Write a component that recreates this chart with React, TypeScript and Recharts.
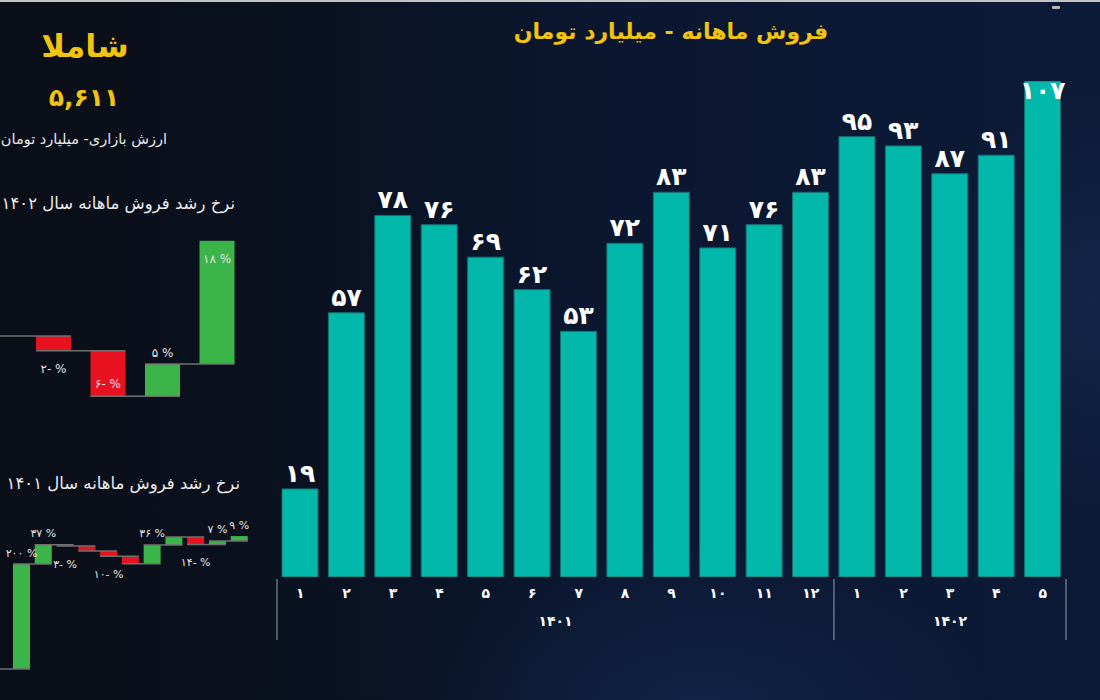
import React from 'react'
import { BarChart, Bar, XAxis, YAxis, LabelList } from 'recharts'

// ─── Data ─────────────────────────────────────────────────────────────────────

const months1401 = [1, 2, 3, 4, 5, 6, 7, 8, 9, 10, 11, 12]
const sales1401 = [19, 57, 78, 76, 69, 62, 53, 72, 83, 71, 76, 83]
const months1402 = [1, 2, 3, 4, 5]
const sales1402 = [95, 93, 87, 91, 107]

// month-on-month growth (%), starting at month 2
const growthMonths1402 = [2, 3, 4, 5]
const growth1402 = [-2.1, -6.5, 4.6, 17.6]
const growthMonths1401 = [2, 3, 4, 5, 6, 7, 8, 9, 10, 11, 12]
const growth1401 = [200, 36.8, -2.6, -9.2, -10.1, -14.5, 35.8, 15.3, -14.5, 7.0, 9.2]
const hiddenLabels1401 = [5, 7, 9]

// ─── Helpers ──────────────────────────────────────────────────────────────────

const FA_DIGITS = '۰۱۲۳۴۵۶۷۸۹'
const fa = (v: number | string) => String(v).replace(/\d/g, (d) => FA_DIGITS[+d])
const pct = (v: number) => `${fa(Math.abs(Math.round(v)))}${v < 0 ? '-' : ''} %`

const FONT = "'DejaVu Sans', sans-serif"
const YELLOW = '#F2C40F'
const TEAL = '#01B8AA'
const GREEN = '#3BB54A'
const RED = '#E8111F'

const groups = [
  { year: '1401', start: 0, n: months1401.length },
  { year: '1402', start: months1401.length, n: months1402.length },
]

const salesData = [
  ...months1401.map((m, i) => ({ key: `1401-${m}`, month: m, value: sales1401[i] })),
  ...months1402.map((m, i) => ({ key: `1402-${m}`, month: m, value: sales1402[i] })),
]
const maxSale = Math.max(...sales1401, ...sales1402)

const MAIN = { top: 81, right: 34, bottom: 63, left: 277 }
const BAND = (1100 - MAIN.left - MAIN.right) / salesData.length

function MonthTick(props: any) {
  const { x, y, payload } = props
  const i = props.index ?? payload.index
  const half = payload.offset || BAND / 2
  const d = salesData[i]
  const g = groups.find((gr) => i >= gr.start && i < gr.start + gr.n)!
  const mid = g.start + Math.floor((g.n - 1) / 2)
  return (
    <g>
      <text x={x} y={y + 21} textAnchor="middle" fill="#fff" fontSize={14} fontWeight={700} fontFamily={FONT}>
        {fa(d.month)}
      </text>
      {i === g.start && (
        <line x1={x - half} x2={x - half} y1={y + 2} y2={y + 63} stroke="#9aa0a8" strokeWidth={1} />
      )}
      {i === salesData.length - 1 && (
        <line x1={x + half} x2={x + half} y1={y + 2} y2={y + 63} stroke="#9aa0a8" strokeWidth={1} />
      )}
      {i === mid && (
        <text
          x={x + (g.n % 2 === 0 ? half : 0)}
          y={y + 49}
          textAnchor="middle"
          fill="#fff"
          fontSize={14}
          fontWeight={700}
          fontFamily={FONT}
        >
          {fa(g.year)}
        </text>
      )}
    </g>
  )
}

function SalesLabel(props: any) {
  const { x, y, width, value } = props
  const inside = y - 7 - 20 < MAIN.top - 20
  return (
    <text
      x={x + width / 2}
      y={inside ? y + 18 : y - 7}
      textAnchor="middle"
      fill="#fff"
      fontSize={25}
      fontWeight={700}
      fontFamily={FONT}
    >
      {fa(value)}
    </text>
  )
}

// ─── Waterfall ────────────────────────────────────────────────────────────────

interface Step {
  month: number
  growth: number
  range: [number, number]
  label: string
}

function buildSteps(months: number[], growth: number[], hidden: number[] = []): Step[] {
  let level = 0
  return months.map((m, i) => {
    const start = level
    const end = level + growth[i]
    level = end
    return {
      month: m,
      growth: growth[i],
      range: [Math.min(start, end), Math.max(start, end)],
      label: hidden.includes(m) ? '' : pct(growth[i]),
    }
  })
}

interface WaterfallProps {
  data: Step[]
  left: number
  top: number
  width: number
  height: number
  margin: { top: number; right: number; bottom: number; left: number }
  domain: [number, number]
  barSize: number
  fontSize: number
}

function Waterfall({ data, left, top, width, height, margin, domain, barSize, fontSize }: WaterfallProps) {
  const pitch = (width - margin.left - margin.right) / data.length
  const plotTop = margin.top
  const plotBottom = height - margin.bottom

  const shape = (p: any) => {
    const { x, y, width: w, height: h, payload, index } = p
    const t = Math.min(y, y + h)
    const hh = Math.abs(h)
    const up = payload.growth >= 0
    const startY = up ? t + hh : t
    const x0 = index === 0 ? 0 : x - pitch
    return (
      <g>
        <rect x={x} y={t} width={w} height={Math.max(hh, 1)} fill={up ? GREEN : RED} />
        <line x1={x0} x2={x + w} y1={startY} y2={startY} stroke="#707070" strokeWidth={1.5} />
      </g>
    )
  }

  const label = (p: any) => {
    const { x, y, width: w, height: h, index } = p
    const d = data[index]
    if (!d || !d.label) return null
    const t = Math.min(y, y + h)
    const b = t + Math.abs(h)
    let ty: number
    if (d.growth >= 0) {
      ty = t - 11
      if (ty - 7 < plotTop) ty = t + 18
    } else {
      ty = b + 18
      if (ty + 6 > plotBottom) ty = b - 12
    }
    return (
      <text
        x={x + w / 2}
        y={ty}
        textAnchor="middle"
        dominantBaseline="central"
        fill="#e4e4e4"
        fontSize={fontSize}
        fontFamily={FONT}
        direction="ltr"
      >
        {d.label}
      </text>
    )
  }

  return (
    <div style={{ position: 'absolute', left, top }}>
      <BarChart width={width} height={height} data={data} margin={margin}>
        <XAxis dataKey="month" hide />
        <YAxis hide domain={domain} allowDataOverflow />
        <Bar dataKey="range" barSize={barSize} shape={shape} isAnimationActive={false}>
          <LabelList dataKey="label" content={label} />
        </Bar>
      </BarChart>
    </div>
  )
}

const steps1402 = buildSteps(growthMonths1402, growth1402)
const steps1401 = buildSteps(growthMonths1401, growth1401, hiddenLabels1401)

// ─── App ──────────────────────────────────────────────────────────────────────

const textBase: React.CSSProperties = {
  position: 'absolute',
  fontFamily: FONT,
  whiteSpace: 'nowrap',
}

export default function App() {
  return (
    <div
      style={{
        position: 'absolute',
        left: 0,
        top: 0,
        width: 1100,
        height: 700,
        overflow: 'hidden',
        background:
          'radial-gradient(ellipse 420px 260px at 700px 720px, rgba(28,58,110,0.35), transparent 70%),' +
          'radial-gradient(ellipse 220px 300px at 1090px 300px, rgba(40,70,120,0.25), transparent 70%),' +
          'linear-gradient(90deg, #0a0e17 0%, #0a111f 25%, #0b1730 55%, #0b1a37 100%)',
      }}
    >
      <div style={{ position: 'absolute', left: 0, top: 0, width: 1100, height: 2, background: '#c4c4c4' }} />
      <div style={{ position: 'absolute', left: 1052, top: 6, width: 8, height: 3, background: '#b8b8b8', borderRadius: 1 }} />

      <div dir="rtl" style={{ ...textBase, left: 421, width: 500, top: 18, lineHeight: '28px', fontSize: 22, fontWeight: 700, color: YELLOW, textAlign: 'center' }}>
        فروش ماهانه - میلیارد تومان
      </div>

      <div dir="rtl" style={{ ...textBase, left: 0, width: 170, top: 28, lineHeight: '36px', fontSize: 32, fontWeight: 700, color: YELLOW, textAlign: 'center' }}>
        شاملا
      </div>
      <div style={{ ...textBase, left: 0, width: 168, top: 82, lineHeight: '32px', fontSize: 25, fontWeight: 700, color: YELLOW, textAlign: 'center' }}>
        {fa('5,611')}
      </div>
      <div dir="rtl" style={{ ...textBase, left: 0, width: 167, top: 130, lineHeight: '18px', fontSize: 14.5, color: '#e8e8e8', textAlign: 'right' }}>
        ارزش بازاری- میلیارد تومان
      </div>

      <div dir="rtl" style={{ ...textBase, left: 0, width: 235, top: 193, lineHeight: '21px', fontSize: 16.5, color: '#ececec', textAlign: 'right' }}>
        {`نرخ رشد فروش ماهانه سال ${fa(1402)}`}
      </div>
      <div dir="rtl" style={{ ...textBase, left: 0, width: 240, top: 473, lineHeight: '21px', fontSize: 16.5, color: '#ececec', textAlign: 'right' }}>
        {`نرخ رشد فروش ماهانه سال ${fa(1401)}`}
      </div>

      <Waterfall
        data={steps1402}
        left={0}
        top={221}
        width={260}
        height={187.5}
        margin={{ top: 10, right: 16, bottom: 6, left: 26 }}
        domain={[-9.5, 15]}
        barSize={35}
        fontSize={12}
      />
      <Waterfall
        data={steps1401}
        left={0}
        top={500}
        width={261.5}
        height={201.5}
        margin={{ top: 11.5, right: 11, bottom: 1, left: 11 }}
        domain={[-60, 300]}
        barSize={17}
        fontSize={11}
      />

      <div style={{ position: 'absolute', left: 0, top: 0 }}>
        <BarChart width={1100} height={700} data={salesData} margin={MAIN}>
          <XAxis
            dataKey="key"
            height={60}
            interval={0}
            axisLine={false}
            tickLine={false}
            tickSize={0}
            tickMargin={0}
            tick={<MonthTick />}
          />
          <YAxis hide domain={[0, maxSale]} allowDataOverflow />
          <Bar dataKey="value" fill={TEAL} stroke="#15706f" strokeWidth={1} barSize={36} isAnimationActive={false}>
            <LabelList dataKey="value" content={<SalesLabel />} />
          </Bar>
        </BarChart>
      </div>
    </div>
  )
}
